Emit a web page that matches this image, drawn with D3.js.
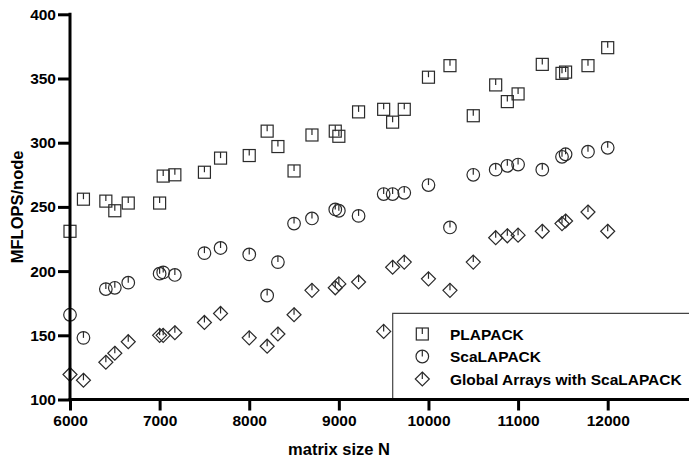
<!DOCTYPE html>
<html>
<head>
<meta charset="utf-8">
<script src="https://cdn.jsdelivr.net/npm/d3@7"></script>
<style>
  html, body { margin: 0; padding: 0; background: #fff; }
  svg { display: block; font-family: "Liberation Sans", Arial, Helvetica, sans-serif; font-weight: bold; }
</style>
</head>
<body>
<svg id="chart" width="689" height="463"></svg>
<script>
// ---- data ----
const sizes = [6000, 6150, 6400, 6500, 6650, 7000, 7040, 7170, 7500, 7680,
               8000, 8200, 8320, 8500, 8700, 8960, 9000, 9220, 9500, 9600,
               9730, 10000, 10240, 10500, 10750, 10880, 11000, 11270, 11490, 11530,
               11780, 12000];
const plapack = [231, 256, 254.5, 247, 253, 253, 274, 275, 277, 288,
                 290, 309, 297, 278, 306, 309, 305, 324, 326, 316,
                 326, 351, 360, 321, 345, 332, 338, 361, 354, 355,
                 360, 374];
const scalapack = [166, 148, 186, 187, 191, 198, 199, 197, 214, 218,
                   213, 181, 207, 237, 241, 248, 247, 243, 260, 260,
                   261, 267, 234, 275, 279, 282, 283, 279, 289, 291,
                   293, 296];
const globalArrays = [119.5, 115, 129, 136, 145, 150, 150, 152, 160, 167,
                      148, 141.5, 151, 166, 185, 187, 190, 191.5, 153, 203,
                      207, 194, 185, 207, 226, 227.5, 228, 231, 237, 239,
                      246, 231];
const seriesNames = ["PLAPACK", "ScaLAPACK", "Global Arrays with ScaLAPACK"];
const seriesShapes = ["square", "circle", "diamond"];
const xTicks = [6000, 7000, 8000, 9000, 10000, 11000, 12000];
const yTicks = [100, 150, 200, 250, 300, 350, 400];
const xLabel = "matrix size N";
const yLabel = "MFLOPS/node";

// ---- layout ----
const W = 689, H = 463;
const svg = d3.select("#chart");
const x = d3.scaleLinear().domain([6000, 12000]).range([70, 607.7]);
const y = d3.scaleLinear().domain([100, 400]).range([399.5, 14.3]);
const markStroke = "#2a2a2a";

// marker drawing
function drawMarker(g, shape, cx, cy) {
  const s = g.append("g").attr("transform", `translate(${cx},${cy})`);
  if (shape === "square") {
    s.append("rect").attr("x", -6).attr("y", -6).attr("width", 12).attr("height", 12)
      .attr("fill", "none").attr("stroke", markStroke).attr("stroke-width", 1.2);
    s.append("line").attr("x1", 0).attr("x2", 0).attr("y1", -6).attr("y2", 0)
      .attr("stroke", markStroke).attr("stroke-width", 1.2);
  } else if (shape === "circle") {
    s.append("circle").attr("r", 6.3)
      .attr("fill", "none").attr("stroke", markStroke).attr("stroke-width", 1.2);
    s.append("line").attr("x1", 0).attr("x2", 0).attr("y1", -6.3).attr("y2", 0)
      .attr("stroke", markStroke).attr("stroke-width", 1.2);
  } else {
    const r = 7;
    s.append("path").attr("d", `M0,${-r}L${r},0L0,${r}L${-r},0Z`)
      .attr("fill", "none").attr("stroke", markStroke).attr("stroke-width", 1.2);
    s.append("line").attr("x1", 0).attr("x2", 0).attr("y1", -r).attr("y2", 0)
      .attr("stroke", markStroke).attr("stroke-width", 1.2);
  }
}

// legend box (drawn beneath axis)
const legend = svg.append("g");
legend.append("path")
  .attr("d", `M392.7,${y(100)}V313.3H${W + 5}`)
  .attr("fill", "none").attr("stroke", "#444").attr("stroke-width", 1.2);

// data marks
const allSeries = [plapack, scalapack, globalArrays];
allSeries.forEach((vals, i) => {
  const g = svg.append("g").attr("class", "series-" + i);
  vals.forEach((v, j) => drawMarker(g, seriesShapes[i], x(sizes[j]), y(v)));
});

// axes
const xAxis = svg.append("g").attr("transform", `translate(0,${y(100)})`)
  .call(d3.axisBottom(x).tickValues(xTicks).tickSize(11).tickPadding(4).tickFormat(d3.format("d")));
xAxis.select(".domain").attr("d", `M68.5,0H${W}`).attr("stroke", "#000").attr("stroke-width", 3);
xAxis.selectAll(".tick line").attr("stroke", "#000").attr("stroke-width", 3);
xAxis.selectAll(".tick text").attr("font-size", 15.5).attr("font-weight", "bold")
  .attr("font-family", "Liberation Sans, Arial, sans-serif").attr("fill", "#000");

const yAxis = svg.append("g").attr("transform", `translate(${x(6000)},0)`)
  .call(d3.axisLeft(y).tickValues(yTicks).tickSize(12).tickPadding(2).tickFormat(d3.format("d")));
yAxis.select(".domain").attr("d", `M0,${y(400) - 1.5}V${y(100) + 1.5}`).attr("stroke", "#000").attr("stroke-width", 3);
yAxis.selectAll(".tick line").attr("stroke", "#000").attr("stroke-width", 3);
yAxis.selectAll(".tick text").attr("font-size", 15.5).attr("font-weight", "bold")
  .attr("font-family", "Liberation Sans, Arial, sans-serif").attr("fill", "#000");

// axis titles
svg.append("text").attr("x", 339).attr("y", 455).attr("text-anchor", "middle")
  .attr("font-size", 16.5).text(xLabel);
svg.append("text").attr("transform", `translate(23,${(y(100) + y(400)) / 2}) rotate(-90)`)
  .attr("text-anchor", "middle").attr("font-size", 16.5).text(yLabel);

// legend entries
const legendRowsY = [334, 356.5, 379];
seriesNames.forEach((name, i) => {
  drawMarker(legend, seriesShapes[i], 422.3, legendRowsY[i]);
  legend.append("text").attr("x", 450).attr("y", legendRowsY[i] + 5.5)
    .attr("font-size", 15.5).text(name);
});
</script>
</body>
</html>
